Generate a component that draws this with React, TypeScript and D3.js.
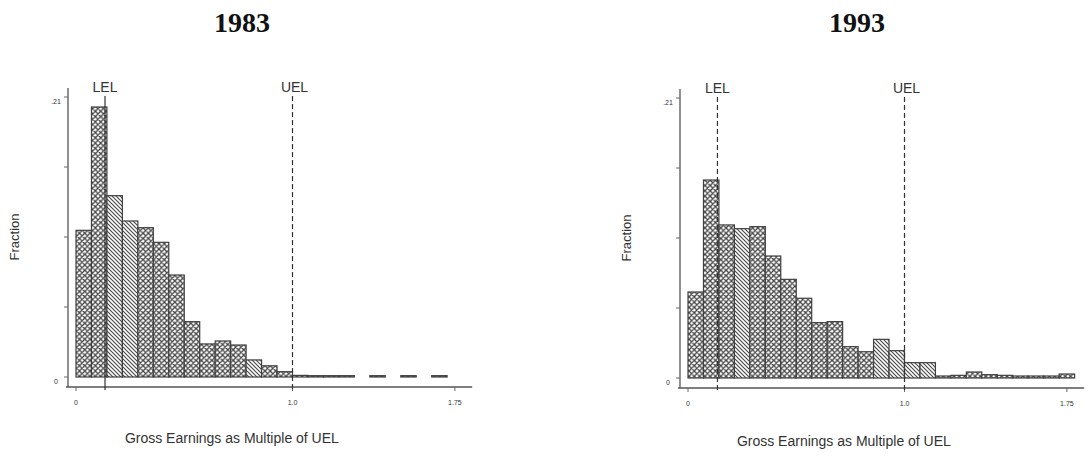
import React from 'react';
import * as d3 from 'd3';

// Histogram bins are 1/14 of the UEL wide, starting at 0.
const binWidth = 1 / 14;

const xTickValues = [0, 1.0, 1.75];
const xTickLabels = ['0', '1.0', '1.75'];
const yTickValues = [0, 0.0525, 0.105, 0.1575, 0.21];
const yTickLabels = ['0', '', '', '', '.21'];

const years = ['1983', '1993'];

// Fraction of earners in each bin
const fractions1983 = [
  0.11, 0.2025, 0.136, 0.117, 0.112, 0.101, 0.0765, 0.0415, 0.0248, 0.027, 0.024, 0.0128,
  0.0084, 0.004, 0.0012, 0.001, 0.001, 0.001, 0, 0.001, 0, 0.001, 0, 0.001,
];
const fractions1993 = [
  0.0645, 0.1485, 0.1148, 0.112, 0.1135, 0.0915, 0.074, 0.0598, 0.0415, 0.0423, 0.0235, 0.0197,
  0.029, 0.0205, 0.0115, 0.0115, 0.0015, 0.002, 0.0045, 0.0025, 0.002, 0.0015, 0.0015, 0.0015,
  0.003,
];

// Fill style of each bin: 'x' cross-hatch, 'd' diagonal hatch
const fills1983 = ['x', 'x', 'd', 'd', 'x', 'x', 'x', 'x', 'x', 'x', 'x', 'd', 'x', 'x',
  'x', 'x', 'x', 'x', 'x', 'x', 'x', 'x', 'x', 'x'];
const fills1993 = ['x', 'x', 'x', 'd', 'x', 'x', 'x', 'x', 'x', 'x', 'x', 'x', 'd', 'd',
  'd', 'd', 'x', 'x', 'x', 'x', 'x', 'x', 'x', 'x', 'x'];

// Lower and upper earnings limits, as multiples of the UEL
const lel1983 = 0.134;
const lel1993 = 0.136;
const uel = 1.0;

const yLabel = 'Fraction';
const xLabel = 'Gross Earnings as Multiple of UEL';

const INK = '#404040';
const SANS = '"Liberation Sans", Arial, Helvetica, sans-serif';

type PanelProps = {
  title: string;
  values: number[];
  fills: string[];
  lel: number;
  lelDashed: boolean;
  x0: number; // pixel of value 0
  yZero: number;
  yTop: number;
  axisX: number;
  axisY: number;
  titleX: number;
  xLabelY: number;
};

function Panel(p: PanelProps) {
  const unit = 216.5;
  const x = d3.scaleLinear().domain([0, 1]).range([p.x0, p.x0 + unit]);
  const y = d3.scaleLinear().domain([0, 0.21]).range([p.yZero, p.yTop]);
  const axisStart = x(-0.046);
  const axisEnd = x(1.83);
  const axisTop = p.yTop - 9;

  return (
    <g>
      <text
        x={p.titleX}
        y={32}
        textAnchor="middle"
        fontFamily='"Liberation Serif", "Times New Roman", serif'
        fontWeight="bold"
        fontSize={28}
        fill="#111"
      >
        {p.title}
      </text>

      {/* bars */}
      {p.values.map((v, i) => {
        if (v <= 0) return null;
        const xa = x(i * binWidth);
        const xb = x((i + 1) * binWidth);
        const top = y(v);
        return (
          <rect
            key={i}
            x={xa}
            y={top}
            width={xb - xa}
            height={Math.max(p.yZero - top, 1)}
            fill={p.fills[i] === 'd' ? 'url(#diagHatch)' : 'url(#crossHatch)'}
            stroke={INK}
            strokeWidth={1.2}
          />
        );
      })}

      {/* y axis */}
      <line x1={p.axisX} x2={p.axisX} y1={axisTop} y2={p.axisY} stroke="#555" strokeWidth={1.3} />
      {yTickValues.map((t, i) => (
        <g key={i}>
          <line x1={p.axisX - 4} x2={p.axisX} y1={y(t)} y2={y(t)} stroke="#666" strokeWidth={1} />
          {yTickLabels[i] && (
            <text
              x={p.axisX - 12}
              y={y(t) + 7}
              textAnchor="middle"
              fontFamily={SANS}
              fontSize={7}
              fill="#333"
            >
              {yTickLabels[i]}
            </text>
          )}
        </g>
      ))}
      <text
        transform={`translate(${p.axisX - 49},${(p.yZero + p.yTop) / 2}) rotate(-90)`}
        textAnchor="middle"
        fontFamily={SANS}
        fontSize={13}
        fill="#333"
      >
        {yLabel}
      </text>

      {/* x axis */}
      <line x1={axisStart} x2={axisEnd} y1={p.axisY} y2={p.axisY} stroke="#555" strokeWidth={1.3} />
      {xTickValues.map((t, i) => (
        <g key={i}>
          <line x1={x(t)} x2={x(t)} y1={p.axisY} y2={p.axisY + 4} stroke="#666" strokeWidth={1} />
          <text
            x={x(t)}
            y={p.axisY + 18}
            textAnchor="middle"
            fontFamily={SANS}
            fontSize={7}
            fill="#333"
          >
            {xTickLabels[i]}
          </text>
        </g>
      ))}
      <text
        x={x(0.72)}
        y={p.xLabelY}
        textAnchor="middle"
        fontFamily={SANS}
        fontSize={14}
        fill="#333"
      >
        {xLabel}
      </text>

      {/* earnings limits */}
      <line
        x1={x(p.lel)}
        x2={x(p.lel)}
        y1={p.yTop - 1}
        y2={p.axisY + 3}
        stroke="#333"
        strokeWidth={1.2}
        strokeDasharray={p.lelDashed ? '5,3' : undefined}
      />
      <text x={x(p.lel)} y={p.yTop - 5} textAnchor="middle" fontFamily={SANS} fontSize={14} fill="#333">
        LEL
      </text>
      <line
        x1={x(uel)}
        x2={x(uel)}
        y1={p.yTop - 1}
        y2={p.axisY + 5}
        stroke="#333"
        strokeWidth={1.2}
        strokeDasharray="5,3"
      />
      <text x={x(uel) + 2} y={p.yTop - 5} textAnchor="middle" fontFamily={SANS} fontSize={14} fill="#333">
        UEL
      </text>
    </g>
  );
}

export default function App() {
  return (
    <svg
      width={1090}
      height={457}
      viewBox="0 0 1090 457"
      style={{ position: 'absolute', left: 0, top: 0, background: '#fff' }}
    >
      <defs>
        <pattern id="crossHatch" width={5.3} height={5.3} patternUnits="userSpaceOnUse">
          <rect width={5.3} height={5.3} fill="#fff" />
          <path
            d="M0,0 L5.3,5.3 M5.3,0 L0,5.3 M-1,-1 L1,1 M4.3,4.3 L6.3,6.3 M4.3,6.3 L6.3,4.3 M-1,6.3 L1,4.3"
            stroke="#484848"
            strokeWidth={1.3}
          />
        </pattern>
        <pattern id="diagHatch" width={4} height={4} patternUnits="userSpaceOnUse">
          <rect width={4} height={4} fill="#fff" />
          <path d="M0,0 L4,4 M-1,3 L1,5 M3,-1 L5,1" stroke="#4a4a4a" strokeWidth={1.15} />
        </pattern>
      </defs>

      <Panel
        title={years[0]}
        values={fractions1983}
        fills={fills1983}
        lel={lel1983}
        lelDashed={false}
        x0={76}
        yZero={377}
        yTop={97}
        axisX={68}
        axisY={387}
        titleX={242}
        xLabelY={443}
      />
      <Panel
        title={years[1]}
        values={fractions1993}
        fills={fills1993}
        lel={lel1993}
        lelDashed={true}
        x0={688}
        yZero={378}
        yTop={98}
        axisX={680}
        axisY={388}
        titleX={857}
        xLabelY={446}
      />
    </svg>
  );
}
